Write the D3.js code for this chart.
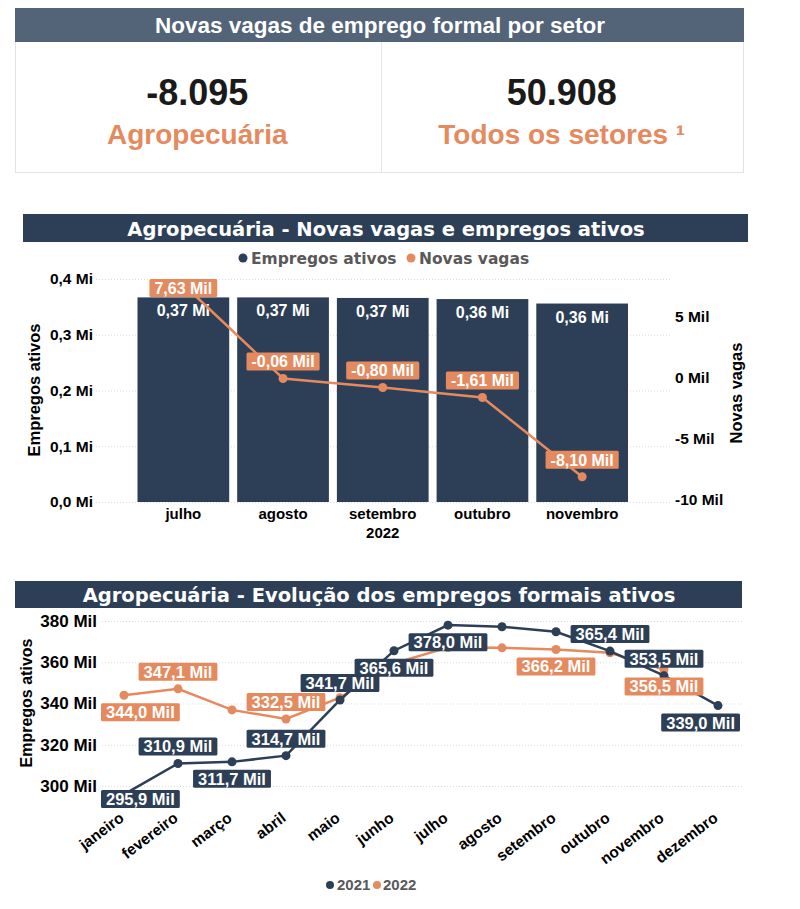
<html lang="pt-BR">
<head>
  <meta charset="UTF-8" />
  <title>Agropecuária - empregos</title>
  <script src="https://d3js.org/d3.v7.min.js"></script>
  <style>
    body { margin: 0; background: #fff; }
    text { font-family: "Liberation Sans", Arial, sans-serif; font-weight: bold; }
    .wide { font-family: "DejaVu Sans", Verdana, sans-serif; }
    .grid line { stroke: #dcdcdc; stroke-dasharray: 1 2; }
    .grid .domain { display: none; }
  </style>
</head>
<body>
  <svg id="chart" width="800" height="909"></svg>
  <script>
    // ---- data ----
    const kpiValues = ["-8.095", "50.908"];
    const kpiLabels = ["Agropecuária", "Todos os setores ¹"];

    const barMonths = ["julho", "agosto", "setembro", "outubro", "novembro"];
    const empregosAtivos = [0.367, 0.367, 0.366, 0.364, 0.356]; // Mi
    const novasVagas = [7.63, -0.06, -0.80, -1.61, -8.10];      // Mil
    const leftTicks = [0, 0.1, 0.2, 0.3, 0.4];
    const rightTicks = [-10, -5, 0, 5];

    const months = ["janeiro", "fevereiro", "março", "abril", "maio", "junho",
      "julho", "agosto", "setembro", "outubro", "novembro", "dezembro"];
    const emp2021 = [295.9, 310.9, 311.7, 314.7, 341.7, 365.6, 378.0, 377.2, 374.8, 365.4, 353.5, 339.0];
    const emp2022 = [344.0, 347.1, 336.9, 332.5, 342.8, 359.5, 367.1, 367.0, 366.2, 364.6, 356.5];
    // which points carry a value label, and on which side
    const labels2021 = ["below", "above", "below", "above", "above", "below", "below", null, null, "above", "above", "below"];
    const labels2022 = ["below", "above", null, "above", null, null, null, null, "below", null, "below"];
    const lineTicks = [300, 320, 340, 360, 380];

    const navy = "#2d3f56";
    const orange = "#e58a5e";
    const grey = "#595959";

    const br = d3.formatLocale({ decimal: ",", thousands: ".", grouping: [3], currency: ["R$", ""], minus: "-" });
    const f1 = br.format(".1f"), f2 = br.format(".2f");

    const svg = d3.select("svg#chart");

    // ---- KPI card ----
    svg.append("rect").attr("x", 15.5).attr("y", 8.5).attr("width", 728).attr("height", 164)
      .attr("fill", "#fff").attr("stroke", "#e3e3e3");
    svg.append("rect").attr("x", 15).attr("y", 8).attr("width", 729).attr("height", 34).attr("fill", "#536378");
    svg.append("text").attr("x", 380).attr("y", 33).attr("text-anchor", "middle")
      .attr("fill", "#fff").attr("font-size", 22.5).text("Novas vagas de emprego formal por setor");
    svg.append("line").attr("x1", 381.5).attr("x2", 381.5).attr("y1", 42).attr("y2", 172).attr("stroke", "#e6e6e6");

    const kpiX = d3.scaleBand().domain(kpiValues).range([15, 744]);
    kpiValues.forEach((v, i) => {
      const cx = kpiX(v) + kpiX.bandwidth() / 2;
      svg.append("text").attr("x", cx).attr("y", 105).attr("text-anchor", "middle")
        .attr("font-size", 36).attr("fill", "#1a1a1a").text(v);
      svg.append("text").attr("x", cx).attr("y", 144).attr("text-anchor", "middle")
        .attr("font-size", 28).attr("fill", orange).text(kpiLabels[i]);
    });

    // ---- bar + line chart ----
    svg.append("rect").attr("x", 23).attr("y", 214).attr("width", 725).attr("height", 28).attr("fill", navy);
    svg.append("text").attr("class", "wide").attr("x", 386).attr("y", 235.5).attr("text-anchor", "middle")
      .attr("fill", "#fff").attr("font-size", 19.5).text("Agropecuária - Novas vagas e empregos ativos");

    // legend
    svg.append("circle").attr("cx", 243).attr("cy", 258).attr("r", 4.5).attr("fill", navy);
    svg.append("text").attr("class", "wide").attr("x", 251).attr("y", 264).attr("font-size", 15.5).attr("fill", grey).text("Empregos ativos");
    svg.append("circle").attr("cx", 411).attr("cy", 258).attr("r", 4.5).attr("fill", orange);
    svg.append("text").attr("class", "wide").attr("x", 419).attr("y", 264).attr("font-size", 15.5).attr("fill", grey).text("Novas vagas");

    const xBar = d3.scaleBand().domain(barMonths).range([133.5, 632]).paddingInner(0.08).paddingOuter(0.04);
    const yLeft = d3.scaleLinear().domain([0, 0.4]).range([502, 279]);
    const yRight = d3.scaleLinear().domain([-10, 8]).range([500, 280]);

    svg.append("g").attr("class", "grid").attr("transform", "translate(670,0)")
      .call(d3.axisLeft(yLeft).tickValues(leftTicks).tickSize(575).tickFormat(""));

    svg.append("g").selectAll("text").data(leftTicks).join("text")
      .attr("x", 93).attr("y", d => yLeft(d)).attr("dy", "0.35em").attr("text-anchor", "end")
      .attr("font-size", 15.5).text(d => f1(d) + " Mi");
    svg.append("g").selectAll("text").data(rightTicks).join("text")
      .attr("x", 675).attr("y", d => yRight(d)).attr("dy", "0.35em")
      .attr("font-size", 15.5).text(d => d + " Mil");

    svg.append("g").selectAll("rect").data(barMonths).join("rect")
      .attr("x", d => xBar(d)).attr("width", xBar.bandwidth())
      .attr("y", (d, i) => yLeft(empregosAtivos[i]))
      .attr("height", (d, i) => yLeft(0) - yLeft(empregosAtivos[i]))
      .attr("fill", navy);
    svg.append("g").selectAll("text").data(barMonths).join("text")
      .attr("x", d => xBar(d) + xBar.bandwidth() / 2)
      .attr("y", (d, i) => yLeft(empregosAtivos[i]) + 19)
      .attr("text-anchor", "middle").attr("fill", "#fff").attr("font-size", 16)
      .text((d, i) => f2(empregosAtivos[i]) + " Mi");

    svg.append("g").selectAll("text").data(barMonths).join("text")
      .attr("x", d => xBar(d) + xBar.bandwidth() / 2).attr("y", 519)
      .attr("text-anchor", "middle").attr("font-size", 15).text(d => d);
    svg.append("text").attr("x", xBar("setembro") + xBar.bandwidth() / 2).attr("y", 538)
      .attr("text-anchor", "middle").attr("font-size", 15).text("2022");

    svg.append("text").attr("transform", "translate(40,390) rotate(-90)").attr("text-anchor", "middle")
      .attr("font-size", 16.5).text("Empregos ativos");
    svg.append("text").attr("transform", "translate(742,393) rotate(-90)").attr("text-anchor", "middle")
      .attr("font-size", 16.5).text("Novas vagas");

    const vagaPts = barMonths.map((m, i) => [xBar(m) + xBar.bandwidth() / 2, yRight(novasVagas[i])]);
    svg.append("path").attr("d", d3.line()(vagaPts)).attr("fill", "none")
      .attr("stroke", orange).attr("stroke-width", 2.5);
    svg.append("g").selectAll("circle").data(vagaPts).join("circle")
      .attr("cx", d => d[0]).attr("cy", d => d[1]).attr("r", 4.5).attr("fill", orange);

    const vagaLab = svg.append("g");
    vagaPts.forEach((p, i) => {
      const cy = Math.max(p[1] - 17, yLeft(0.4) + 9);
      const g = vagaLab.append("g");
      const t = g.append("text").attr("x", p[0]).attr("y", cy).attr("dy", "0.36em")
        .attr("text-anchor", "middle").attr("fill", "#fff").attr("font-size", 16)
        .text(f2(novasVagas[i]) + " Mil");
      const w = t.node().getComputedTextLength() + 10;
      g.insert("rect", "text").attr("x", p[0] - w / 2).attr("y", cy - 9)
        .attr("width", w).attr("height", 18).attr("rx", 1.5).attr("fill", orange);
    });

    // ---- line chart ----
    svg.append("rect").attr("x", 15).attr("y", 581).attr("width", 727).attr("height", 27).attr("fill", navy);
    svg.append("text").attr("class", "wide").attr("x", 379).attr("y", 602).attr("text-anchor", "middle")
      .attr("fill", "#fff").attr("font-size", 19.5).text("Agropecuária - Evolução dos empregos formais ativos");

    const x = d3.scalePoint().domain(months).range([124, 718]);
    const y = d3.scaleLinear().domain([300, 380]).range([786, 621]);

    svg.append("g").attr("class", "grid").attr("transform", "translate(742,0)")
      .call(d3.axisLeft(y).tickValues(lineTicks).tickSize(642).tickFormat(""));
    svg.append("g").selectAll("text").data(lineTicks).join("text")
      .attr("x", 97).attr("y", d => y(d)).attr("dy", "0.35em").attr("text-anchor", "end")
      .attr("font-size", 17).text(d => d + " Mil");
    svg.append("text").attr("transform", "translate(32,703) rotate(-90)").attr("text-anchor", "middle")
      .attr("font-size", 16).text("Empregos ativos");

    svg.append("g").selectAll("text").data(months).join("text")
      .attr("transform", d => `translate(${x(d) + 1},820) rotate(-37)`)
      .attr("text-anchor", "end").attr("font-size", 15.5).text(d => d);

    const series = [
      { vals: emp2022, labs: labels2022, color: orange },
      { vals: emp2021, labs: labels2021, color: navy }
    ];
    series.forEach(s => {
      const pts = s.vals.map((v, i) => [x(months[i]), y(v)]);
      svg.append("path").attr("d", d3.line()(pts)).attr("fill", "none")
        .attr("stroke", s.color).attr("stroke-width", 2.5);
      svg.append("g").selectAll("circle").data(pts).join("circle")
        .attr("cx", d => d[0]).attr("cy", d => d[1]).attr("r", 4.5).attr("fill", s.color);
    });
    series.forEach(s => {
      const g = svg.append("g");
      s.vals.forEach((v, i) => {
        if (!s.labs[i]) return;
        const px = x(months[i]), py = y(v);
        let cy = s.labs[i] === "above" ? py - 17 : py + 17;
        cy = Math.min(cy, y(300) + 13);
        const t = g.append("text").attr("y", cy).attr("dy", "0.36em")
          .attr("text-anchor", "middle").attr("fill", "#fff").attr("font-size", 16.5)
          .text(f1(v) + " Mil");
        const w = t.node().getComputedTextLength() + 10;
        const cx = Math.max(101 + w / 2, Math.min(740 - w / 2, px));
        t.attr("x", cx);
        g.insert("rect", "text").attr("x", cx - w / 2).attr("y", cy - 9)
          .attr("width", w).attr("height", 18).attr("rx", 1.5).attr("fill", s.color);
      });
    });

    // bottom legend
    svg.append("circle").attr("cx", 330).attr("cy", 885).attr("r", 4).attr("fill", navy);
    svg.append("text").attr("x", 337).attr("y", 890).attr("font-size", 15).attr("fill", grey).text("2021");
    svg.append("circle").attr("cx", 377).attr("cy", 885).attr("r", 4).attr("fill", orange);
    svg.append("text").attr("x", 383).attr("y", 890).attr("font-size", 15).attr("fill", grey).text("2022");
  </script>
</body>
</html>
